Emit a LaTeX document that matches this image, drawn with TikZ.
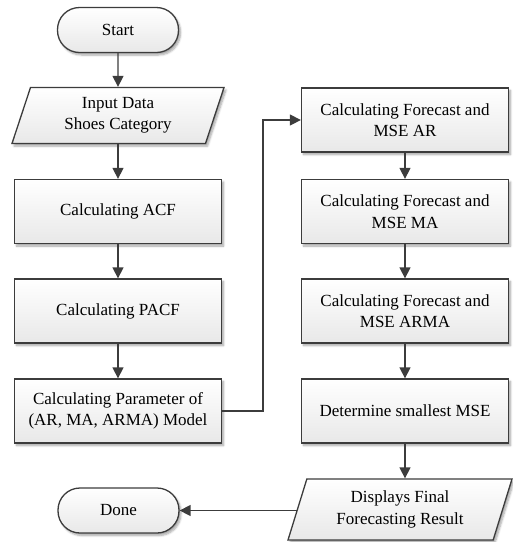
\documentclass[tikz,border=0pt]{standalone}
\usepackage{fontspec}
\setmainfont{Liberation Serif}
\usetikzlibrary{arrows.meta,shapes.geometric,shadows.blur}
\definecolor{edge}{HTML}{3C3C3C}
\tikzset{
  base/.style={draw=edge, line width=1.3pt, top color=white, bottom color=black!9,
    blur shadow={shadow xshift=2pt, shadow yshift=-2.5pt, shadow blur radius=2pt,
      shadow blur steps=6, shadow opacity=35},
    align=center, inner sep=0pt, text=black,
    font=\fontsize{17}{21.5}\selectfont},
  procbox/.style={base, rectangle, minimum width=207pt, minimum height=64pt},
  termbox/.style={base, rectangle, rounded corners=22pt, minimum width=121pt, minimum height=45pt},
  iobox/.style={base, trapezium, trapezium left angle=63, trapezium right angle=117,
    trapezium stretches body, minimum height=56pt},
  flow/.style={draw=edge, line width=1.4pt, -{Triangle[length=11pt,width=11pt]}}
}
\begin{document}
\begin{tikzpicture}[x=1pt,y=-1pt]
  \useasboundingbox (0,0) rectangle (513,542);

  % left column
  \node[termbox] (start) at (118,30) {Start};
  \node[iobox, minimum width=212pt] (input) at (118,115.5) {Input Data\\Shoes Category};
  \node[procbox] (acf) at (118,211.5) {Calculating ACF};
  \node[procbox] (pacf) at (118,311) {Calculating PACF};
  \node[procbox] (param) at (118,411) {Calculating Parameter of\\(AR, MA, ARMA) Model};
  \node[termbox] (done) at (118.5,510.5) {Done};

  % right column
  \node[procbox] (ar) at (405,120) {Calculating Forecast and\\MSE AR};
  \node[procbox] (ma) at (405,211.5) {Calculating Forecast and\\MSE MA};
  \node[procbox] (arma) at (405,311) {Calculating Forecast and\\MSE ARMA};
  \node[procbox] (best) at (405,411) {Determine smallest MSE};
  \node[iobox, minimum width=224pt, minimum height=61pt] (result) at (400,509.5)
    {Displays Final\\Forecasting Result};

  % connectors
  \draw[flow] (start) -- (input);
  \draw[flow] (input.south -| acf.north) -- (acf);
  \draw[flow] (acf) -- (pacf);
  \draw[flow] (pacf) -- (param);
  \draw[flow] (param.east) -- ++(41,0) |- (ar.west);
  \draw[flow] (ar) -- (ma);
  \draw[flow] (ma) -- (arma);
  \draw[flow] (arma) -- (best);
  \draw[flow] (best.south) -- (best.south |- result.north);
  \draw[flow] (result.west |- done.east) -- (done.east);
\end{tikzpicture}
\end{document}
